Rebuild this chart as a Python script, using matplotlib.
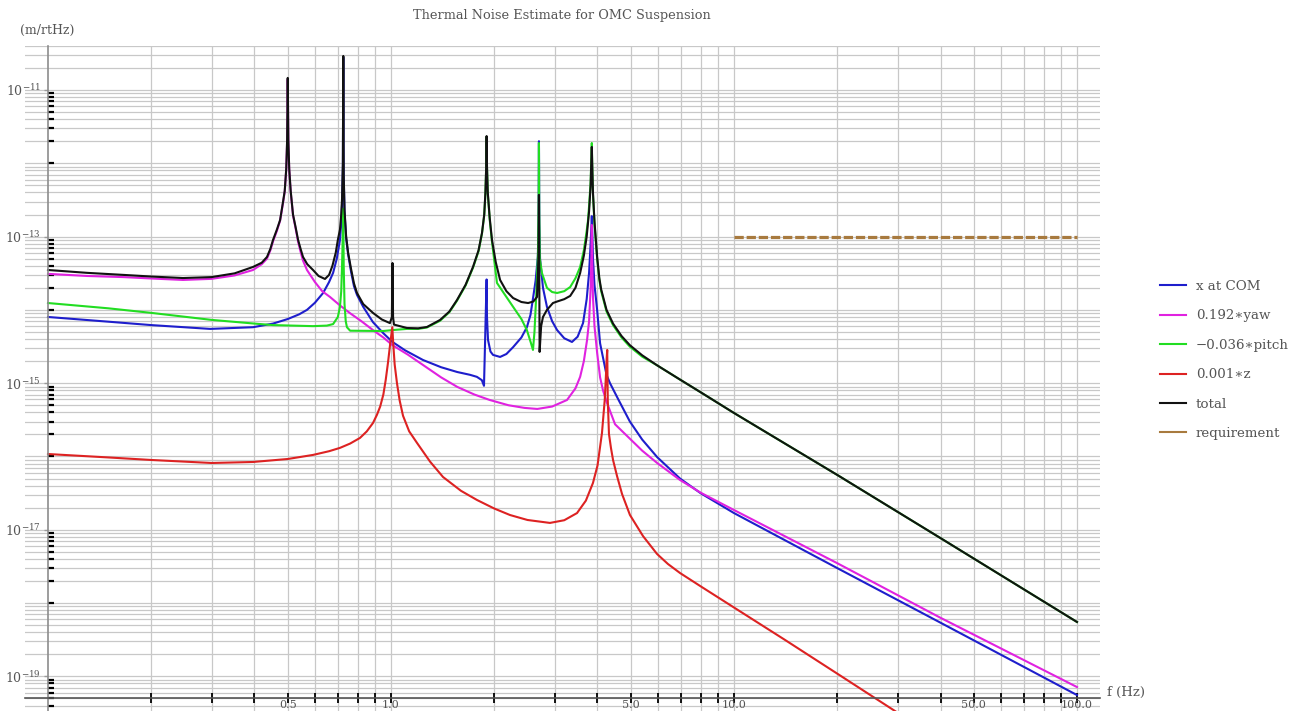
import matplotlib
matplotlib.use("Agg")
import matplotlib.pyplot as plt
from matplotlib.lines import Line2D
from matplotlib.ticker import FixedLocator, FixedFormatter, NullFormatter

plt.rcParams['font.family'] = ['DejaVu Serif']
plt.rcParams['mathtext.fontset'] = 'dejavuserif'

##### values (f in Hz, noise in m/rtHz) #####
f_com = [0.1, 0.15, 0.2, 0.297, 0.396, 0.453, 0.5, 0.54, 0.569, 0.6, 0.634, 0.66, 0.678, 0.695,
         0.71, 0.716, 0.72, 0.724, 0.726, 0.728, 0.732, 0.74, 0.75, 0.765, 0.78, 0.796, 0.83,
         0.886, 0.95, 1.01, 1.1, 1.24, 1.4, 1.56, 1.7, 1.78, 1.84, 1.867, 1.9, 1.905, 1.918,
         1.95, 1.984, 2.08, 2.17, 2.27, 2.4, 2.49, 2.55, 2.59, 2.64, 2.68, 2.693, 2.7, 2.707,
         2.72, 2.774, 2.849, 2.95, 3.05, 3.2, 3.37, 3.5, 3.63, 3.72, 3.78, 3.82, 3.84, 3.85, 3.86,
         3.88, 3.92, 3.99, 4.07, 4.25, 4.35, 4.6, 4.97, 5.4, 5.97, 6.96, 8.0, 10.0, 20.0, 40.0, 100.0]
x_com = [8.0e-15, 6.9e-15, 6.2e-15, 5.5e-15, 5.8e-15, 6.5e-15, 7.5e-15, 8.7e-15, 1.0e-14, 1.25e-14,
         1.7e-14, 2.4e-14, 3.2e-14, 5.0e-14, 9.0e-14, 1.5e-13, 2.8e-13, 9.0e-13, 2.8e-11, 7.0e-13,
         2.2e-13, 9.5e-14, 5.7e-14, 3.3e-14, 2.1e-14, 1.6e-14, 1.1e-14, 6.8e-15, 4.8e-15, 3.65e-15,
         2.8e-15, 2.07e-15, 1.65e-15, 1.42e-15, 1.3e-15, 1.22e-15, 1.1e-15, 9.2e-16, 2.6e-14, 8.0e-15,
         3.9e-15, 2.7e-15, 2.43e-15, 2.28e-15, 2.5e-15, 3.1e-15, 4.2e-15, 5.8e-15, 8.5e-15, 1.36e-14,
         2.5e-14, 5.3e-14, 1.5e-13, 2.0e-12, 1.5e-13, 5.0e-14, 2.0e-14, 1.1e-14, 7.0e-15, 5.3e-15,
         4.1e-15, 3.65e-15, 4.3e-15, 6.6e-15, 1.4e-14, 3.2e-14, 8.0e-14, 1.4e-13, 1.9e-13, 1.3e-13,
         5.0e-14, 2.2e-14, 1.0e-14, 3.5e-15, 1.3e-15, 1.0e-15, 6.0e-16, 3.0e-16, 1.7e-16, 9.8e-17,
         5.0e-17, 3.15e-17, 1.69e-17, 3.0e-18, 5.4e-19, 5.56e-20]

f_yaw = [0.1, 0.13, 0.166, 0.2, 0.2475, 0.3, 0.35, 0.396, 0.42, 0.435, 0.445, 0.453, 0.465, 0.475,
         0.484, 0.49, 0.495, 0.498, 0.5, 0.502, 0.505, 0.51, 0.518, 0.527, 0.536, 0.545, 0.554,
         0.569, 0.6, 0.63, 0.664, 0.71, 0.76, 0.82, 0.886, 0.95, 1.01, 1.12, 1.24, 1.4, 1.56, 1.75,
         1.94, 2.2, 2.45, 2.67, 2.95, 3.26, 3.45, 3.56, 3.65, 3.73, 3.78, 3.82, 3.84, 3.85, 3.86,
         3.88, 3.92, 3.99, 4.07, 4.15, 4.25, 4.5, 4.97, 5.4, 5.97, 6.96, 8.0, 10.0, 20.0, 40.0, 100.0]
yaw = [3.1e-14, 2.9e-14, 2.8e-14, 2.68e-14, 2.56e-14, 2.65e-14, 2.95e-14, 3.5e-14, 4.2e-14, 5.0e-14,
       6.5e-14, 8.6e-14, 1.2e-13, 1.65e-13, 2.8e-13, 4.1e-13, 8.2e-13, 2.0e-12, 1.4e-11, 2.0e-12,
       8.2e-13, 4.1e-13, 1.95e-13, 1.3e-13, 8.5e-14, 6.2e-14, 4.7e-14, 3.5e-14, 2.4e-14, 1.8e-14,
       1.5e-14, 1.15e-14, 9.0e-15, 7.0e-15, 5.3e-15, 4.2e-15, 3.3e-15, 2.45e-15, 1.77e-15, 1.2e-15,
       8.9e-16, 7.0e-16, 5.9e-16, 5.0e-16, 4.6e-16, 4.45e-16, 4.8e-16, 5.9e-16, 8.5e-16, 1.22e-15,
       2.0e-15, 3.9e-15, 7.0e-15, 2.0e-14, 5.0e-14, 1.44e-13, 5.0e-14, 1.5e-14, 6.0e-15, 2.6e-15,
       1.2e-15, 8.0e-16, 5.6e-16, 2.75e-16, 1.75e-16, 1.2e-16, 8.15e-17, 4.78e-17, 3.2e-17, 1.86e-17,
       3.5e-18, 6.3e-19, 7.15e-20]

f_pitch = [0.1, 0.15, 0.2, 0.3, 0.4, 0.453, 0.5925, 0.65, 0.678, 0.70, 0.71, 0.716, 0.72, 0.724,
           0.726, 0.728, 0.732, 0.738, 0.744, 0.76, 0.95, 1.01, 1.113, 1.2, 1.273, 1.39, 1.48, 1.557,
           1.65, 1.734, 1.8, 1.842, 1.87, 1.885, 1.895, 1.9, 1.905, 1.915, 1.94, 1.97, 2.037, 2.15,
           2.27, 2.4, 2.49, 2.56, 2.594, 2.62, 2.65, 2.683, 2.695, 2.7, 2.705, 2.715, 2.755, 2.849,
           2.95, 3.05, 3.2, 3.33, 3.45, 3.56, 3.65, 3.72, 3.75, 3.78, 3.82, 3.84, 3.85, 3.86, 3.88,
           3.92, 3.99, 4.05, 4.1, 4.25, 4.44, 4.7, 4.97, 5.4, 5.97, 6.96, 8.0, 10.0, 20.0, 40.0, 100.0]
pitch = [1.24e-14, 1.05e-14, 9.1e-15, 7.3e-15, 6.5e-15, 6.2e-15, 6.0e-15, 6.1e-15, 6.4e-15, 8.0e-15,
         1.1e-14, 1.8e-14, 4.0e-14, 1.2e-13, 2.4e-13, 4.0e-14, 1.2e-14, 7.0e-15, 5.8e-15, 5.2e-15,
         5.15e-15, 5.3e-15, 5.5e-15, 5.5e-15, 5.75e-15, 7.1e-15, 9.3e-15, 1.33e-14, 2.15e-14, 3.75e-14,
         6.3e-14, 1.1e-13, 1.95e-13, 3.9e-13, 8.8e-13, 2.3e-12, 8.8e-13, 3.9e-13, 1.7e-13, 8.5e-14,
         2.33e-14, 1.6e-14, 1.1e-14, 7.5e-15, 5.3e-15, 3.5e-15, 2.84e-15, 5.0e-15, 1.5e-14, 6.0e-14,
         3.0e-13, 1.89e-12, 2.0e-13, 5.0e-14, 3.18e-14, 2.0e-14, 1.75e-14, 1.7e-14, 1.8e-14, 2.05e-14,
         2.7e-14, 3.85e-14, 6.5e-14, 1.2e-13, 1.6e-13, 2.6e-13, 5.5e-13, 1.3e-12, 1.89e-12, 1.0e-12,
         3.8e-13, 1.5e-13, 5.0e-14, 2.55e-14, 1.8e-14, 9.5e-15, 6.2e-15, 4.2e-15, 3.15e-15, 2.3e-15,
         1.75e-15, 1.12e-15, 7.5e-16, 3.92e-16, 5.6e-17, 7.7e-18, 5.52e-19]

f_z = [0.1, 0.15, 0.2, 0.3, 0.396, 0.5, 0.5925, 0.66, 0.71, 0.76, 0.812, 0.85, 0.886, 0.91, 0.93,
       0.95, 0.965, 0.98, 0.995, 1.009, 1.015, 1.025, 1.041, 1.06, 1.084, 1.13, 1.191, 1.3, 1.418,
       1.6, 1.781, 2.0, 2.223, 2.5, 2.907, 3.2, 3.486, 3.7, 3.88, 4.0, 4.122, 4.2, 4.234, 4.255,
       4.27, 4.285, 4.32, 4.378, 4.44, 4.56, 4.716, 4.974, 5.43, 5.965, 6.42, 6.962, 8.0, 10.0,
       14.0, 20.0, 35.0]
z = [1.08e-16, 9.7e-17, 8.96e-17, 8.15e-17, 8.41e-17, 9.24e-17, 1.05e-16, 1.18e-16, 1.31e-16,
     1.5e-16, 1.79e-16, 2.2e-16, 2.86e-16, 3.7e-16, 4.8e-16, 7.0e-16, 1.1e-15, 1.9e-15, 3.5e-15,
     5.8e-15, 3.5e-15, 1.8e-15, 1.0e-15, 5.8e-16, 3.6e-16, 2.2e-16, 1.53e-16, 8.5e-17, 5.25e-17,
     3.4e-17, 2.55e-17, 1.95e-17, 1.59e-17, 1.36e-17, 1.24e-17, 1.35e-17, 1.69e-17, 2.5e-17, 4.35e-17,
     7.5e-17, 2.09e-16, 6.0e-16, 1.3e-15, 2.2e-15, 2.84e-15, 6.0e-16, 2.03e-16, 1.31e-16, 8.96e-17,
     5.42e-17, 3.08e-17, 1.59e-17, 8.2e-18, 4.68e-18, 3.41e-18, 2.57e-18, 1.69e-18, 8.7e-19,
     3.2e-19, 1.09e-19, 2.0e-20]

f_total = [0.1, 0.13, 0.166, 0.2, 0.2475, 0.3, 0.35, 0.396, 0.42, 0.435, 0.445, 0.453, 0.465, 0.475,
           0.484, 0.49, 0.495, 0.498, 0.5, 0.502, 0.505, 0.51, 0.518, 0.527, 0.536, 0.545, 0.554,
           0.57, 0.5925, 0.615, 0.642, 0.66, 0.675, 0.69, 0.70, 0.71, 0.716, 0.72, 0.724, 0.726,
           0.728, 0.732, 0.74, 0.75, 0.765, 0.78, 0.796, 0.83, 0.886, 0.94, 0.993, 1.006, 1.01, 1.014,
           1.02, 1.113, 1.2, 1.273, 1.39, 1.48, 1.557, 1.65, 1.734, 1.8, 1.842, 1.87, 1.885, 1.895,
           1.9, 1.905, 1.915, 1.94, 1.97, 2.02, 2.08, 2.17, 2.27, 2.4, 2.51, 2.6, 2.665, 2.69, 2.7,
           2.712, 2.74, 2.774, 2.849, 2.966, 3.05, 3.2, 3.33, 3.45, 3.56, 3.65, 3.72, 3.78, 3.82,
           3.84, 3.85, 3.86, 3.88, 3.92, 3.99, 4.05, 4.1, 4.25, 4.44, 4.7, 4.97, 5.4, 5.97, 6.96,
           8.0, 10.0, 20.0, 40.0, 100.0]
total = [3.5e-14, 3.2e-14, 3.0e-14, 2.85e-14, 2.72e-14, 2.8e-14, 3.15e-14, 3.85e-14, 4.4e-14,
         5.27e-14, 6.8e-14, 9.0e-14, 1.25e-13, 1.68e-13, 2.9e-13, 4.2e-13, 8.4e-13, 2.1e-12, 1.46e-11,
         2.1e-12, 8.4e-13, 4.2e-13, 2.0e-13, 1.35e-13, 9.0e-14, 6.8e-14, 5.27e-14, 4.2e-14, 3.5e-14,
         2.9e-14, 2.64e-14, 3.0e-14, 4.0e-14, 6.0e-14, 9.0e-14, 1.25e-13, 2.0e-13, 3.3e-13, 1.0e-12,
         2.91e-11, 7.0e-13, 2.3e-13, 1.0e-13, 6.0e-14, 3.6e-14, 2.3e-14, 1.7e-14, 1.2e-14, 9.1e-15,
         7.4e-15, 6.6e-15, 8.0e-15, 4.36e-14, 8.0e-15, 6.3e-15, 5.66e-15, 5.6e-15, 5.84e-15, 7.28e-15,
         9.5e-15, 1.36e-14, 2.2e-14, 3.85e-14, 6.5e-14, 1.12e-13, 2.0e-13, 4.0e-13, 9.0e-13, 2.35e-12,
         9.0e-13, 4.0e-13, 1.8e-13, 9.0e-14, 4.5e-14, 2.56e-14, 1.8e-14, 1.45e-14, 1.28e-14, 1.24e-14,
         1.3e-14, 1.5e-14, 5.0e-14, 3.7e-13, 2.67e-15, 6.0e-15, 8.0e-15, 1.0e-14, 1.24e-14, 1.3e-14,
         1.4e-14, 1.55e-14, 2.0e-14, 3.18e-14, 5.5e-14, 1.0e-13, 2.2e-13, 5.0e-13, 1.2e-12, 1.67e-12,
         1.0e-12, 4.0e-13, 1.6e-13, 5.3e-14, 2.7e-14, 1.9e-14, 1.0e-14, 6.5e-15, 4.4e-15, 3.3e-15,
         2.4e-15, 1.75e-15, 1.12e-15, 7.5e-16, 3.92e-16, 5.6e-17, 7.7e-18, 5.52e-19]

f_req = [10.0, 100.0]
req = [1e-13, 1e-13]

series_labels = ["x at COM", "0.192\u2217yaw", "\u22120.036\u2217pitch", "0.001\u2217z", "total", "requirement"]
x_tick_vals = [0.5, 1.0, 5.0, 10.0, 50.0, 100.0]
x_tick_text = ["0.5", "1.0", "5.0", "10.0", "50.0", "100.0"]
y_tick_exp = [-19, -17, -15, -13, -11]

##### figure in pixels #####
W, H = 1301, 711
fig = plt.figure(figsize=(W / 100, H / 100), dpi=100)
ax = fig.add_axes([25 / W, 0, 1075 / W, 665 / H])
ax.set_xscale('log')
ax.set_yscale('log')
ax.set_xlim(0.0857, 116.7)
ax.set_ylim(3.37e-20, 3.98e-11)

##### grid like the original (every 1..9 x decade) #####
grid_c = '#c8c8c8'
for e in range(-20, -10):
    for k in range(1, 10):
        ax.axhline(k * 10.0 ** e, color=grid_c, lw=0.9, zorder=0)
for e in range(-1, 2):
    for k in range(1, 10):
        if k * 10.0 ** e > 0.1:
            ax.axvline(k * 10.0 ** e, color=grid_c, lw=0.9, zorder=0)
ax.axvline(100.0, color=grid_c, lw=0.9, zorder=0)

##### curves #####
c_blue, c_mag, c_green, c_red, c_black, c_brown = '#1e1ecc', '#e022e0', '#22dd22', '#dd2222', '#111111', '#a87a3e'
ax.plot(f_com, x_com, color=c_blue, lw=1.5)
ax.plot(f_yaw, yaw, color=c_mag, lw=1.5)
ax.plot(f_pitch, pitch, color=c_green, lw=1.5)
ax.plot(f_z, z, color=c_red, lw=1.5)
ax.plot(f_total, total, color=c_black, lw=1.5)
ax.plot(f_req, req, color=c_brown, lw=2.3, dashes=(2.9, 0.9))

##### axes: spines through x=0.1 and y=5e-20 #####
ax.spines['top'].set_visible(False)
ax.spines['right'].set_visible(False)
ax.spines['left'].set_position(('data', 0.1))
ax.spines['bottom'].set_position(('data', 5e-20))
ax.spines['left'].set_color('#8c8c8c')
ax.spines['bottom'].set_color('#555555')
ax.spines['left'].set_linewidth(1.2)
ax.spines['bottom'].set_linewidth(1.2)

x_minor = [k * 10.0 ** e for e in range(-1, 2) for k in range(2, 10) if k * 10.0 ** e not in x_tick_vals]
ax.xaxis.set_major_locator(FixedLocator(x_tick_vals))
ax.xaxis.set_major_formatter(FixedFormatter(x_tick_text))
ax.xaxis.set_minor_locator(FixedLocator(x_minor))
ax.xaxis.set_minor_formatter(NullFormatter())
ax.tick_params(axis='x', which='both', direction='inout', length=7, width=1.3, color='black',
               labelsize=8, labelcolor='#555555', pad=-2.5)

y_minor = [k * 10.0 ** (e - 1) for e in y_tick_exp for k in range(1, 10)]
ax.yaxis.set_major_locator(FixedLocator([10.0 ** e for e in y_tick_exp]))
ax.yaxis.set_major_formatter(FixedFormatter([r'$10^{%d}$' % e for e in y_tick_exp]))
ax.yaxis.set_minor_locator(FixedLocator(y_minor))
ax.yaxis.set_minor_formatter(NullFormatter())
ax.tick_params(axis='y', which='major', direction='out', length=3, width=1, color='#999999',
               labelsize=9, labelcolor='#555555', pad=2)
ax.tick_params(axis='y', which='minor', direction='in', length=4, width=1.6, color='black')

##### texts #####
fig.text(562 / W, 1 - 15 / H, "Thermal Noise Estimate for OMC Suspension", ha='center', va='center',
         fontsize=9.3, color='#555555')
fig.text(20 / W, 1 - 30 / H, "(m/rtHz)", ha='left', va='center', fontsize=9, color='#555555')
fig.text(1107 / W, 1 - 692 / H, "f (Hz)", ha='left', va='center', fontsize=9.5, color='#555555')

##### legend (requirement shown solid as in the original) #####
colors = [c_blue, c_mag, c_green, c_red, c_black, c_brown]
handles = [Line2D([0], [0], color=c, lw=1.5) for c in colors]
leg = fig.legend(handles, series_labels, loc='upper left', bbox_to_anchor=(1160 / W, 1 - 280 / H),
                 frameon=False, fontsize=9.6, handlelength=1.95, handletextpad=0.75, labelspacing=1.23,
                 borderpad=0, borderaxespad=0)
for t in leg.get_texts():
    t.set_color('#555555')

fig.savefig('out.png', dpi=100)
